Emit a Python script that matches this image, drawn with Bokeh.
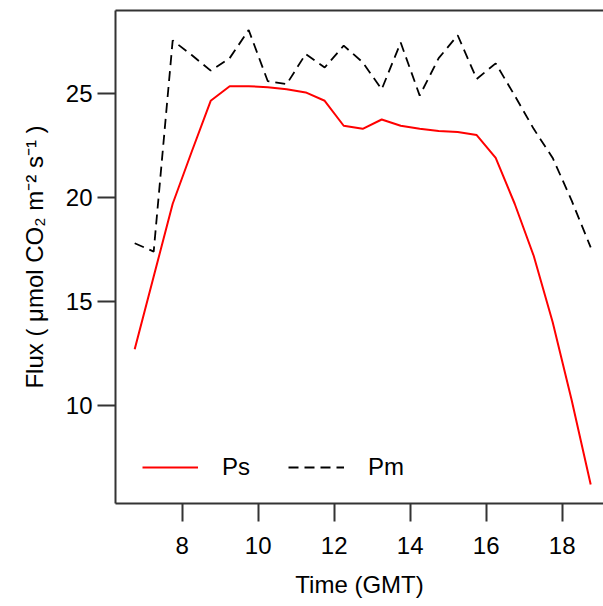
from bokeh.plotting import figure
from bokeh.models import LinearAxis, FixedTicker, Legend, LegendItem, Range1d
from bokeh.embed import file_html
from bokeh.resources import INLINE

# ---- data ----
time_gmt = [6.75, 7.25, 7.75, 8.25, 8.75, 9.25, 9.75, 10.25, 10.75, 11.25,
            11.75, 12.25, 12.75, 13.25, 13.75, 14.25, 14.75, 15.25, 15.75,
            16.25, 16.75, 17.25, 17.75, 18.25, 18.75]
ps = [12.7, 16.2, 19.7, 22.2, 24.65, 25.35, 25.35, 25.3, 25.2, 25.05,
      24.65, 23.45, 23.3, 23.75, 23.45, 23.3, 23.2, 23.15, 23.0,
      21.9, 19.7, 17.2, 14.0, 10.25, 6.2]
pm = [17.8, 17.4, 27.55, 26.85, 26.1, 26.7, 28.05, 25.6, 25.45, 26.9,
      26.25, 27.3, 26.5, 25.2, 27.45, 24.9, 26.7, 27.8, 25.7,
      26.45, 24.9, 23.3, 21.9, 19.85, 17.6]
x_ticks = [8, 10, 12, 14, 16, 18]
y_ticks = [10, 15, 20, 25]
series_names = ["Ps", "Pm"]

FONT = "Liberation Sans"
FS = "24px"
AX = "#333333"

p = figure(width=603, height=606,
           x_range=Range1d(6.245, 19.087), y_range=Range1d(5.29, 28.99),
           output_backend="svg", toolbar_location=None,
           min_border_left=115, min_border_right=0,
           min_border_top=10, min_border_bottom=103)
p.outline_line_color = None
p.grid.visible = False
p.background_fill_color = "white"
p.border_fill_color = "white"

for ax, ticks in ((p.xaxis[0], x_ticks), (p.yaxis[0], y_ticks)):
    ax.ticker = FixedTicker(ticks=ticks)
    ax.major_tick_out = 18
    ax.major_tick_in = 0
    ax.minor_tick_out = 0
    ax.minor_tick_in = 0
    ax.axis_line_width = 2
    ax.axis_line_color = AX
    ax.major_tick_line_width = 2
    ax.major_tick_line_color = AX
    ax.major_label_text_font = FONT
    ax.major_label_text_font_size = FS
    ax.major_label_text_color = "black"
    ax.axis_label_text_font = FONT
    ax.axis_label_text_font_size = FS
    ax.axis_label_text_font_style = "normal"
    ax.axis_label_text_color = "black"

p.xaxis[0].axis_label = "Time (GMT)"
p.xaxis[0].major_label_standoff = 15
p.xaxis[0].axis_label_standoff = 14
p.yaxis[0].axis_label = "Flux ( μmol CO₂ m⁻² s⁻¹ )"
p.yaxis[0].major_label_standoff = 5
p.yaxis[0].axis_label_standoff = 15

top = LinearAxis(ticker=FixedTicker(ticks=[]), major_tick_out=0, major_tick_in=0,
                 minor_tick_out=0, minor_tick_in=0, major_label_standoff=0,
                 axis_line_width=2, axis_line_color=AX)
p.add_layout(top, "above")

r_ps = p.line(time_gmt, ps, line_color="#FF0000", line_width=2)
r_pm = p.line(time_gmt, pm, line_color="black", line_width=1.8, line_dash="10 6")

legend = Legend(items=[LegendItem(label=series_names[0], renderers=[r_ps]),
                       LegendItem(label=series_names[1], renderers=[r_pm])],
                orientation="horizontal", location=(27, 22),
                glyph_width=56, glyph_height=20, label_standoff=24, spacing=38,
                padding=0, margin=0, border_line_color=None,
                background_fill_alpha=0,
                label_text_font=FONT, label_text_font_size=FS,
                label_text_color="black")
p.add_layout(legend, "center")

open("out.html", "w").write(file_html(p, INLINE))
